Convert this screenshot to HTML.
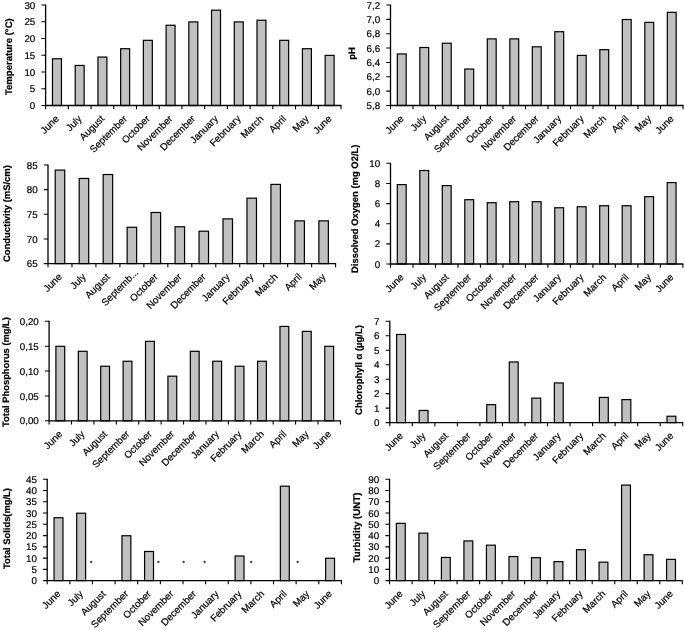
<!DOCTYPE html>
<html><head><meta charset="utf-8"><title>Figure</title>
<style>
html,body{margin:0;padding:0;background:#fff;}
svg{display:block;}
text{font-family:"Liberation Sans","DejaVu Sans",sans-serif;fill:#000;stroke:#000;stroke-width:0.2;text-rendering:geometricPrecision;}
.t{font-size:9.8px;text-anchor:end;}
.l{font-size:9.8px;text-anchor:end;}
.h{font-size:9.8px;font-weight:bold;text-anchor:middle;fill:#000;}
.a{stroke:#000;stroke-width:1.3;fill:none;}
.k{stroke:#000;stroke-width:1.1;fill:none;}
.b{fill:#c0c0c0;stroke:#000;stroke-width:1.2;}
.s{font-size:6px;text-anchor:middle;}
</style></head><body>
<svg width="685" height="630" viewBox="0 0 685 630">
<rect width="685" height="630" fill="#fff"/>

<g>
<rect class="b" x="52.48" y="58.75" width="8.96" height="46.75"/>
<rect class="b" x="75.20" y="65.45" width="8.96" height="40.05"/>
<rect class="b" x="97.93" y="57.07" width="8.96" height="48.43"/>
<rect class="b" x="120.65" y="48.70" width="8.96" height="56.80"/>
<rect class="b" x="143.37" y="40.32" width="8.96" height="65.17"/>
<rect class="b" x="166.10" y="25.25" width="8.96" height="80.25"/>
<rect class="b" x="188.82" y="21.90" width="8.96" height="83.60"/>
<rect class="b" x="211.54" y="10.18" width="8.96" height="95.32"/>
<rect class="b" x="234.27" y="21.90" width="8.96" height="83.60"/>
<rect class="b" x="256.99" y="20.23" width="8.96" height="85.27"/>
<rect class="b" x="279.71" y="40.32" width="8.96" height="65.17"/>
<rect class="b" x="302.43" y="48.70" width="8.96" height="56.80"/>
<rect class="b" x="325.16" y="55.40" width="8.96" height="50.10"/>
<path class="a" d="M45.60 4.50V105.50H341.50"/>
<path class="k" d="M45.60 105.50h-4.2M45.60 88.75h-4.2M45.60 72.00h-4.2M45.60 55.25h-4.2M45.60 38.50h-4.2M45.60 21.75h-4.2M45.60 5.00h-4.2M45.60 105.50v3.7M68.32 105.50v3.7M91.05 105.50v3.7M113.77 105.50v3.7M136.49 105.50v3.7M159.22 105.50v3.7M181.94 105.50v3.7M204.66 105.50v3.7M227.38 105.50v3.7M250.11 105.50v3.7M272.83 105.50v3.7M295.55 105.50v3.7M318.28 105.50v3.7M341.00 105.50v3.7"/>
<text class="t" x="35.30" y="109.10">0</text>
<text class="t" x="35.30" y="92.35">5</text>
<text class="t" x="35.30" y="75.60">10</text>
<text class="t" x="35.30" y="58.85">15</text>
<text class="t" x="35.30" y="42.10">20</text>
<text class="t" x="35.30" y="25.35">25</text>
<text class="t" x="35.30" y="8.60">30</text>
<text class="l" transform="translate(59.56 119.40) rotate(-45)">June</text>
<text class="l" transform="translate(82.28 119.40) rotate(-45)">July</text>
<text class="l" transform="translate(105.01 119.40) rotate(-45)">August</text>
<text class="l" transform="translate(127.73 119.40) rotate(-45)">September</text>
<text class="l" transform="translate(150.45 119.40) rotate(-45)">October</text>
<text class="l" transform="translate(173.18 119.40) rotate(-45)">November</text>
<text class="l" transform="translate(195.90 119.40) rotate(-45)">December</text>
<text class="l" transform="translate(218.62 119.40) rotate(-45)">January</text>
<text class="l" transform="translate(241.35 119.40) rotate(-45)">February</text>
<text class="l" transform="translate(264.07 119.40) rotate(-45)">March</text>
<text class="l" transform="translate(286.79 119.40) rotate(-45)">April</text>
<text class="l" transform="translate(309.52 119.40) rotate(-45)">May</text>
<text class="l" transform="translate(332.24 119.40) rotate(-45)">June</text>
<text class="h" style="font-size:9.55px" transform="translate(11.50 56.70) rotate(-90)">Temperature (°C)</text>
</g>
<g>
<rect class="b" x="397.32" y="53.96" width="8.87" height="51.54"/>
<rect class="b" x="419.82" y="47.50" width="8.87" height="58.00"/>
<rect class="b" x="442.32" y="43.20" width="8.87" height="62.30"/>
<rect class="b" x="464.82" y="69.04" width="8.87" height="36.46"/>
<rect class="b" x="487.32" y="38.89" width="8.87" height="66.61"/>
<rect class="b" x="509.82" y="38.89" width="8.87" height="66.61"/>
<rect class="b" x="532.32" y="46.79" width="8.87" height="58.71"/>
<rect class="b" x="554.82" y="31.71" width="8.87" height="73.79"/>
<rect class="b" x="577.32" y="55.40" width="8.87" height="50.10"/>
<rect class="b" x="599.82" y="49.66" width="8.87" height="55.84"/>
<rect class="b" x="622.32" y="19.51" width="8.87" height="85.99"/>
<rect class="b" x="644.82" y="22.38" width="8.87" height="83.12"/>
<rect class="b" x="667.32" y="12.33" width="8.87" height="93.17"/>
<path class="a" d="M390.50 4.50V105.50H683.50"/>
<path class="k" d="M390.50 105.50h-4.2M390.50 91.14h-4.2M390.50 76.79h-4.2M390.50 62.43h-4.2M390.50 48.07h-4.2M390.50 33.71h-4.2M390.50 19.36h-4.2M390.50 5.00h-4.2M390.50 105.50v3.7M413.00 105.50v3.7M435.50 105.50v3.7M458.00 105.50v3.7M480.50 105.50v3.7M503.00 105.50v3.7M525.50 105.50v3.7M548.00 105.50v3.7M570.50 105.50v3.7M593.00 105.50v3.7M615.50 105.50v3.7M638.00 105.50v3.7M660.50 105.50v3.7M683.00 105.50v3.7"/>
<text class="t" x="380.20" y="109.10">5,8</text>
<text class="t" x="380.20" y="94.74">6,0</text>
<text class="t" x="380.20" y="80.39">6,2</text>
<text class="t" x="380.20" y="66.03">6,4</text>
<text class="t" x="380.20" y="51.67">6,6</text>
<text class="t" x="380.20" y="37.31">6,8</text>
<text class="t" x="380.20" y="22.96">7,0</text>
<text class="t" x="380.20" y="8.60">7,2</text>
<text class="l" transform="translate(404.35 119.40) rotate(-45)">June</text>
<text class="l" transform="translate(426.85 119.40) rotate(-45)">July</text>
<text class="l" transform="translate(449.35 119.40) rotate(-45)">August</text>
<text class="l" transform="translate(471.85 119.40) rotate(-45)">September</text>
<text class="l" transform="translate(494.35 119.40) rotate(-45)">October</text>
<text class="l" transform="translate(516.85 119.40) rotate(-45)">November</text>
<text class="l" transform="translate(539.35 119.40) rotate(-45)">December</text>
<text class="l" transform="translate(561.85 119.40) rotate(-45)">January</text>
<text class="l" transform="translate(584.35 119.40) rotate(-45)">February</text>
<text class="l" transform="translate(606.85 119.40) rotate(-45)">March</text>
<text class="l" transform="translate(629.35 119.40) rotate(-45)">April</text>
<text class="l" transform="translate(651.85 119.40) rotate(-45)">May</text>
<text class="l" transform="translate(674.35 119.40) rotate(-45)">June</text>
<text class="h" style="font-size:9.4px" transform="translate(355.20 53.40) rotate(-90)">pH</text>
</g>
<g>
<rect class="b" x="55.23" y="170.08" width="9.50" height="93.52"/>
<rect class="b" x="79.20" y="178.46" width="9.50" height="85.14"/>
<rect class="b" x="103.17" y="174.52" width="9.50" height="89.08"/>
<rect class="b" x="127.13" y="227.27" width="9.50" height="36.33"/>
<rect class="b" x="151.10" y="212.48" width="9.50" height="51.12"/>
<rect class="b" x="175.07" y="226.78" width="9.50" height="36.83"/>
<rect class="b" x="199.03" y="231.21" width="9.50" height="32.39"/>
<rect class="b" x="223.00" y="218.89" width="9.50" height="44.71"/>
<rect class="b" x="246.97" y="198.18" width="9.50" height="65.42"/>
<rect class="b" x="270.93" y="184.38" width="9.50" height="79.22"/>
<rect class="b" x="294.90" y="220.86" width="9.50" height="42.74"/>
<rect class="b" x="318.87" y="220.86" width="9.50" height="42.74"/>
<path class="a" d="M48.00 164.50V263.60H336.10"/>
<path class="k" d="M48.00 263.60h-4.2M48.00 238.95h-4.2M48.00 214.30h-4.2M48.00 189.65h-4.2M48.00 165.00h-4.2M48.00 263.60v3.7M71.97 263.60v3.7M95.93 263.60v3.7M119.90 263.60v3.7M143.87 263.60v3.7M167.83 263.60v3.7M191.80 263.60v3.7M215.77 263.60v3.7M239.73 263.60v3.7M263.70 263.60v3.7M287.67 263.60v3.7M311.63 263.60v3.7M335.60 263.60v3.7"/>
<text class="t" x="37.70" y="267.20">65</text>
<text class="t" x="37.70" y="242.55">70</text>
<text class="t" x="37.70" y="217.90">75</text>
<text class="t" x="37.70" y="193.25">80</text>
<text class="t" x="37.70" y="168.60">85</text>
<text class="l" transform="translate(62.58 277.50) rotate(-45)">June</text>
<text class="l" transform="translate(86.55 277.50) rotate(-45)">July</text>
<text class="l" transform="translate(110.52 277.50) rotate(-45)">August</text>
<text class="l" transform="translate(138.98 273.00) rotate(-45)">Septemb...</text>
<text class="l" transform="translate(158.45 277.50) rotate(-45)">October</text>
<text class="l" transform="translate(182.42 277.50) rotate(-45)">November</text>
<text class="l" transform="translate(206.38 277.50) rotate(-45)">December</text>
<text class="l" transform="translate(230.35 277.50) rotate(-45)">January</text>
<text class="l" transform="translate(254.32 277.50) rotate(-45)">February</text>
<text class="l" transform="translate(278.28 277.50) rotate(-45)">March</text>
<text class="l" transform="translate(302.25 277.50) rotate(-45)">April</text>
<text class="l" transform="translate(326.22 277.50) rotate(-45)">May</text>
<text class="h" style="font-size:9.45px" transform="translate(9.70 213.60) rotate(-90)">Conductivity (mS/cm)</text>
</g>
<g>
<rect class="b" x="397.31" y="184.60" width="8.86" height="79.40"/>
<rect class="b" x="419.80" y="170.50" width="8.86" height="93.50"/>
<rect class="b" x="442.29" y="185.60" width="8.86" height="78.40"/>
<rect class="b" x="464.78" y="199.70" width="8.86" height="64.30"/>
<rect class="b" x="487.27" y="202.72" width="8.86" height="61.28"/>
<rect class="b" x="509.76" y="201.72" width="8.86" height="62.28"/>
<rect class="b" x="532.25" y="201.72" width="8.86" height="62.28"/>
<rect class="b" x="554.73" y="207.76" width="8.86" height="56.24"/>
<rect class="b" x="577.22" y="206.75" width="8.86" height="57.25"/>
<rect class="b" x="599.71" y="205.74" width="8.86" height="58.26"/>
<rect class="b" x="622.20" y="205.74" width="8.86" height="58.26"/>
<rect class="b" x="644.69" y="196.68" width="8.86" height="67.32"/>
<rect class="b" x="667.18" y="182.58" width="8.86" height="81.42"/>
<path class="a" d="M390.50 162.80V264.00H683.35"/>
<path class="k" d="M390.50 264.00h-4.2M390.50 243.86h-4.2M390.50 223.72h-4.2M390.50 203.58h-4.2M390.50 183.44h-4.2M390.50 163.30h-4.2M390.50 264.00v3.7M412.99 264.00v3.7M435.48 264.00v3.7M457.97 264.00v3.7M480.45 264.00v3.7M502.94 264.00v3.7M525.43 264.00v3.7M547.92 264.00v3.7M570.41 264.00v3.7M592.90 264.00v3.7M615.38 264.00v3.7M637.87 264.00v3.7M660.36 264.00v3.7M682.85 264.00v3.7"/>
<text class="t" x="380.20" y="267.60">0</text>
<text class="t" x="380.20" y="247.46">2</text>
<text class="t" x="380.20" y="227.32">4</text>
<text class="t" x="380.20" y="207.18">6</text>
<text class="t" x="380.20" y="187.04">8</text>
<text class="t" x="380.20" y="166.90">10</text>
<text class="l" transform="translate(404.34 277.90) rotate(-45)">June</text>
<text class="l" transform="translate(426.83 277.90) rotate(-45)">July</text>
<text class="l" transform="translate(449.32 277.90) rotate(-45)">August</text>
<text class="l" transform="translate(471.81 277.90) rotate(-45)">September</text>
<text class="l" transform="translate(494.30 277.90) rotate(-45)">October</text>
<text class="l" transform="translate(516.79 277.90) rotate(-45)">November</text>
<text class="l" transform="translate(539.27 277.90) rotate(-45)">December</text>
<text class="l" transform="translate(561.76 277.90) rotate(-45)">January</text>
<text class="l" transform="translate(584.25 277.90) rotate(-45)">February</text>
<text class="l" transform="translate(606.74 277.90) rotate(-45)">March</text>
<text class="l" transform="translate(629.23 277.90) rotate(-45)">April</text>
<text class="l" transform="translate(651.72 277.90) rotate(-45)">May</text>
<text class="l" transform="translate(674.21 277.90) rotate(-45)">June</text>
<text class="h" style="font-size:9.45px" transform="translate(358.40 208.80) rotate(-90)">Dissolved Oxygen (mg O2/L)</text>
</g>
<g>
<rect class="b" x="55.89" y="346.32" width="8.82" height="74.47"/>
<rect class="b" x="78.30" y="351.30" width="8.82" height="69.50"/>
<rect class="b" x="100.71" y="366.23" width="8.82" height="54.57"/>
<rect class="b" x="123.11" y="361.25" width="8.82" height="59.55"/>
<rect class="b" x="145.52" y="341.35" width="8.82" height="79.45"/>
<rect class="b" x="167.93" y="376.18" width="8.82" height="44.62"/>
<rect class="b" x="190.34" y="351.30" width="8.82" height="69.50"/>
<rect class="b" x="212.75" y="361.25" width="8.82" height="59.55"/>
<rect class="b" x="235.15" y="366.23" width="8.82" height="54.57"/>
<rect class="b" x="257.56" y="361.25" width="8.82" height="59.55"/>
<rect class="b" x="279.97" y="326.43" width="8.82" height="94.37"/>
<rect class="b" x="302.38" y="331.40" width="8.82" height="89.40"/>
<rect class="b" x="324.78" y="346.32" width="8.82" height="74.47"/>
<path class="a" d="M49.10 320.80V420.80H340.90"/>
<path class="k" d="M49.10 420.80h-4.2M49.10 395.93h-4.2M49.10 371.05h-4.2M49.10 346.18h-4.2M49.10 321.30h-4.2M49.10 420.80v3.7M71.51 420.80v3.7M93.92 420.80v3.7M116.32 420.80v3.7M138.73 420.80v3.7M161.14 420.80v3.7M183.55 420.80v3.7M205.95 420.80v3.7M228.36 420.80v3.7M250.77 420.80v3.7M273.18 420.80v3.7M295.58 420.80v3.7M317.99 420.80v3.7M340.40 420.80v3.7"/>
<text class="t" x="38.80" y="424.40">0,00</text>
<text class="t" x="38.80" y="399.53">0,05</text>
<text class="t" x="38.80" y="374.65">0,10</text>
<text class="t" x="38.80" y="349.78">0,15</text>
<text class="t" x="38.80" y="324.90">0,20</text>
<text class="l" transform="translate(62.90 434.70) rotate(-45)">June</text>
<text class="l" transform="translate(85.31 434.70) rotate(-45)">July</text>
<text class="l" transform="translate(107.72 434.70) rotate(-45)">August</text>
<text class="l" transform="translate(130.13 434.70) rotate(-45)">September</text>
<text class="l" transform="translate(152.53 434.70) rotate(-45)">October</text>
<text class="l" transform="translate(174.94 434.70) rotate(-45)">November</text>
<text class="l" transform="translate(197.35 434.70) rotate(-45)">December</text>
<text class="l" transform="translate(219.76 434.70) rotate(-45)">January</text>
<text class="l" transform="translate(242.17 434.70) rotate(-45)">February</text>
<text class="l" transform="translate(264.57 434.70) rotate(-45)">March</text>
<text class="l" transform="translate(286.98 434.70) rotate(-45)">April</text>
<text class="l" transform="translate(309.39 434.70) rotate(-45)">May</text>
<text class="l" transform="translate(331.80 434.70) rotate(-45)">June</text>
<text class="h" style="font-size:9.35px" transform="translate(9.20 372.00) rotate(-90)">Total Phosphorus (mg/L)</text>
</g>
<g>
<rect class="b" x="396.63" y="334.47" width="8.88" height="88.13"/>
<rect class="b" x="419.16" y="410.45" width="8.88" height="12.15"/>
<rect class="b" x="486.75" y="404.66" width="8.88" height="17.94"/>
<rect class="b" x="509.28" y="361.97" width="8.88" height="60.63"/>
<rect class="b" x="531.81" y="398.15" width="8.88" height="24.45"/>
<rect class="b" x="554.34" y="382.95" width="8.88" height="39.65"/>
<rect class="b" x="599.40" y="397.43" width="8.88" height="25.17"/>
<rect class="b" x="621.93" y="399.60" width="8.88" height="23.00"/>
<rect class="b" x="667.00" y="416.24" width="8.88" height="6.36"/>
<path class="a" d="M389.80 320.80V422.60H683.20"/>
<path class="k" d="M389.80 422.60h-4.2M389.80 408.13h-4.2M389.80 393.66h-4.2M389.80 379.19h-4.2M389.80 364.71h-4.2M389.80 350.24h-4.2M389.80 335.77h-4.2M389.80 321.30h-4.2M389.80 422.60v3.7M412.33 422.60v3.7M434.86 422.60v3.7M457.39 422.60v3.7M479.92 422.60v3.7M502.45 422.60v3.7M524.98 422.60v3.7M547.52 422.60v3.7M570.05 422.60v3.7M592.58 422.60v3.7M615.11 422.60v3.7M637.64 422.60v3.7M660.17 422.60v3.7M682.70 422.60v3.7"/>
<text class="t" x="379.50" y="426.20">0</text>
<text class="t" x="379.50" y="411.73">1</text>
<text class="t" x="379.50" y="397.26">2</text>
<text class="t" x="379.50" y="382.79">3</text>
<text class="t" x="379.50" y="368.31">4</text>
<text class="t" x="379.50" y="353.84">5</text>
<text class="t" x="379.50" y="339.37">6</text>
<text class="t" x="379.50" y="324.90">7</text>
<text class="l" transform="translate(403.67 436.50) rotate(-45)">June</text>
<text class="l" transform="translate(426.20 436.50) rotate(-45)">July</text>
<text class="l" transform="translate(448.73 436.50) rotate(-45)">August</text>
<text class="l" transform="translate(471.26 436.50) rotate(-45)">September</text>
<text class="l" transform="translate(493.79 436.50) rotate(-45)">October</text>
<text class="l" transform="translate(516.32 436.50) rotate(-45)">November</text>
<text class="l" transform="translate(538.85 436.50) rotate(-45)">December</text>
<text class="l" transform="translate(561.38 436.50) rotate(-45)">January</text>
<text class="l" transform="translate(583.91 436.50) rotate(-45)">February</text>
<text class="l" transform="translate(606.44 436.50) rotate(-45)">March</text>
<text class="l" transform="translate(628.97 436.50) rotate(-45)">April</text>
<text class="l" transform="translate(651.50 436.50) rotate(-45)">May</text>
<text class="l" transform="translate(674.03 436.50) rotate(-45)">June</text>
<text class="h" style="font-size:9.5px" transform="translate(361.80 370.00) rotate(-90)">Chlorophyll α (µg/L)</text>
</g>
<g>
<rect class="b" x="54.05" y="517.72" width="8.92" height="62.88"/>
<rect class="b" x="76.69" y="513.22" width="8.92" height="67.38"/>
<rect class="b" x="121.95" y="535.73" width="8.92" height="44.87"/>
<rect class="b" x="144.58" y="551.49" width="8.92" height="29.11"/>
<rect class="b" x="235.10" y="555.99" width="8.92" height="24.61"/>
<rect class="b" x="280.36" y="486.20" width="8.92" height="94.40"/>
<rect class="b" x="325.62" y="558.24" width="8.92" height="22.36"/>
<path class="a" d="M47.20 478.80V580.60H341.90"/>
<path class="k" d="M47.20 580.60h-4.2M47.20 569.34h-4.2M47.20 558.09h-4.2M47.20 546.83h-4.2M47.20 535.58h-4.2M47.20 524.32h-4.2M47.20 513.07h-4.2M47.20 501.81h-4.2M47.20 490.56h-4.2M47.20 479.30h-4.2M47.20 580.60v3.7M69.83 580.60v3.7M92.46 580.60v3.7M115.09 580.60v3.7M137.72 580.60v3.7M160.35 580.60v3.7M182.98 580.60v3.7M205.62 580.60v3.7M228.25 580.60v3.7M250.88 580.60v3.7M273.51 580.60v3.7M296.14 580.60v3.7M318.77 580.60v3.7M341.40 580.60v3.7"/>
<text class="t" x="36.90" y="584.20">0</text>
<text class="t" x="36.90" y="572.94">5</text>
<text class="t" x="36.90" y="561.69">10</text>
<text class="t" x="36.90" y="550.43">15</text>
<text class="t" x="36.90" y="539.18">20</text>
<text class="t" x="36.90" y="527.92">25</text>
<text class="t" x="36.90" y="516.67">30</text>
<text class="t" x="36.90" y="505.41">35</text>
<text class="t" x="36.90" y="494.16">40</text>
<text class="t" x="36.90" y="482.90">45</text>
<text class="l" transform="translate(61.12 594.50) rotate(-45)">June</text>
<text class="l" transform="translate(83.75 594.50) rotate(-45)">July</text>
<text class="l" transform="translate(106.38 594.50) rotate(-45)">August</text>
<text class="l" transform="translate(129.01 594.50) rotate(-45)">September</text>
<text class="l" transform="translate(151.64 594.50) rotate(-45)">October</text>
<text class="l" transform="translate(174.27 594.50) rotate(-45)">November</text>
<text class="l" transform="translate(196.90 594.50) rotate(-45)">December</text>
<text class="l" transform="translate(219.53 594.50) rotate(-45)">January</text>
<text class="l" transform="translate(242.16 594.50) rotate(-45)">February</text>
<text class="l" transform="translate(264.79 594.50) rotate(-45)">March</text>
<text class="l" transform="translate(287.42 594.50) rotate(-45)">April</text>
<text class="l" transform="translate(310.05 594.50) rotate(-45)">May</text>
<text class="l" transform="translate(332.68 594.50) rotate(-45)">June</text>
<text class="h" style="font-size:9.35px" transform="translate(9.70 528.50) rotate(-90)">Total Solids(mg/L)</text>
<text class="s" x="91.20" y="565.00">*</text>
<text class="s" x="158.30" y="565.00">*</text>
<text class="s" x="183.60" y="565.00">*</text>
<text class="s" x="204.70" y="565.00">*</text>
<text class="s" x="251.20" y="565.00">*</text>
<text class="s" x="297.60" y="565.00">*</text>
</g>
<g>
<rect class="b" x="396.37" y="523.35" width="8.87" height="57.25"/>
<rect class="b" x="418.89" y="533.14" width="8.87" height="47.46"/>
<rect class="b" x="441.41" y="557.45" width="8.87" height="23.15"/>
<rect class="b" x="463.93" y="540.91" width="8.87" height="39.69"/>
<rect class="b" x="486.45" y="545.18" width="8.87" height="35.42"/>
<rect class="b" x="508.97" y="556.55" width="8.87" height="24.05"/>
<rect class="b" x="531.49" y="557.68" width="8.87" height="22.92"/>
<rect class="b" x="554.01" y="561.62" width="8.87" height="18.98"/>
<rect class="b" x="576.53" y="549.68" width="8.87" height="30.92"/>
<rect class="b" x="599.05" y="562.18" width="8.87" height="18.42"/>
<rect class="b" x="621.57" y="485.08" width="8.87" height="95.52"/>
<rect class="b" x="644.08" y="554.75" width="8.87" height="25.85"/>
<rect class="b" x="666.60" y="559.36" width="8.87" height="21.24"/>
<path class="a" d="M389.55 478.80V580.60H682.80"/>
<path class="k" d="M389.55 580.60h-4.2M389.55 569.34h-4.2M389.55 558.09h-4.2M389.55 546.83h-4.2M389.55 535.58h-4.2M389.55 524.32h-4.2M389.55 513.07h-4.2M389.55 501.81h-4.2M389.55 490.56h-4.2M389.55 479.30h-4.2M389.55 580.60v3.7M412.07 580.60v3.7M434.59 580.60v3.7M457.11 580.60v3.7M479.63 580.60v3.7M502.15 580.60v3.7M524.67 580.60v3.7M547.18 580.60v3.7M569.70 580.60v3.7M592.22 580.60v3.7M614.74 580.60v3.7M637.26 580.60v3.7M659.78 580.60v3.7M682.30 580.60v3.7"/>
<text class="t" x="379.25" y="584.20">0</text>
<text class="t" x="379.25" y="572.94">10</text>
<text class="t" x="379.25" y="561.69">20</text>
<text class="t" x="379.25" y="550.43">30</text>
<text class="t" x="379.25" y="539.18">40</text>
<text class="t" x="379.25" y="527.92">50</text>
<text class="t" x="379.25" y="516.67">60</text>
<text class="t" x="379.25" y="505.41">70</text>
<text class="t" x="379.25" y="494.16">80</text>
<text class="t" x="379.25" y="482.90">90</text>
<text class="l" transform="translate(403.41 594.50) rotate(-45)">June</text>
<text class="l" transform="translate(425.93 594.50) rotate(-45)">July</text>
<text class="l" transform="translate(448.45 594.50) rotate(-45)">August</text>
<text class="l" transform="translate(470.97 594.50) rotate(-45)">September</text>
<text class="l" transform="translate(493.49 594.50) rotate(-45)">October</text>
<text class="l" transform="translate(516.01 594.50) rotate(-45)">November</text>
<text class="l" transform="translate(538.52 594.50) rotate(-45)">December</text>
<text class="l" transform="translate(561.04 594.50) rotate(-45)">January</text>
<text class="l" transform="translate(583.56 594.50) rotate(-45)">February</text>
<text class="l" transform="translate(606.08 594.50) rotate(-45)">March</text>
<text class="l" transform="translate(628.60 594.50) rotate(-45)">April</text>
<text class="l" transform="translate(651.12 594.50) rotate(-45)">May</text>
<text class="l" transform="translate(673.64 594.50) rotate(-45)">June</text>
<text class="h" style="font-size:9.7px" transform="translate(360.00 527.50) rotate(-90)">Turbidity (UNT)</text>
</g>
</svg></body></html>
